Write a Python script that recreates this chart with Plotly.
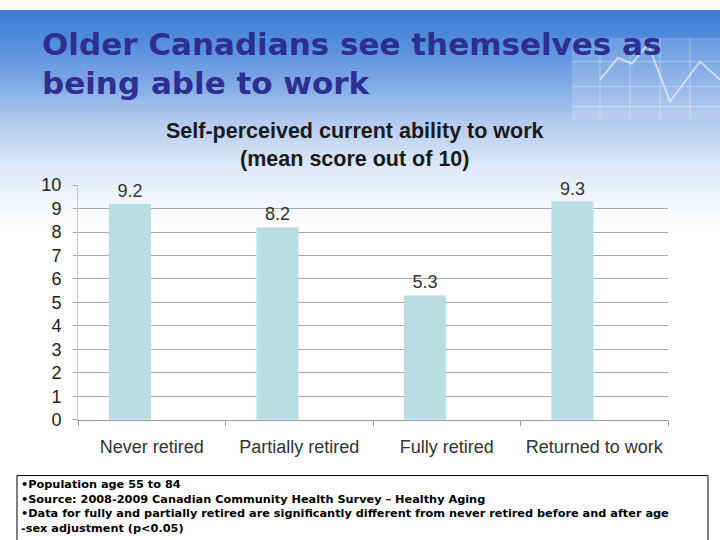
import plotly.graph_objects as go

categories = ["Never retired", "Partially retired", "Fully retired", "Returned to work"]
values = [9.2, 8.2, 5.3, 9.3]
value_labels = ["9.2", "8.2", "5.3", "9.3"]
y_ticks = [0, 1, 2, 3, 4, 5, 6, 7, 8, 9, 10]

title_lines = ["Older Canadians see themselves as", "being able to work"]
chart_title = "Self-perceived current ability to work<br>(mean score out of 10)"
notes = [
    "•Population age 55 to 84",
    "•Source: 2008-2009 Canadian Community Health Survey – Healthy Aging",
    "•Data for fully and partially retired are significantly different from never retired before and after age",
    "-sex adjustment (p<0.05)",
]

W, H = 720, 540
# the captured picture maps figure rows as: pic_y = 8 + 0.968 * fig_y
OFF, SC = 8.0, 0.968

def fy(p):  # desired picture y (from top) -> figure pixel
    return (p - OFF) / SC

def py(p):  # desired picture y -> paper coordinate
    return 1 - fy(p) / H

def px(p):
    return p / W

BAR_W = 0.285          # fraction of a category slot
BAR_SHIFT = -0.148     # bar centre sits left of the category centre (empty second series slot)

fig = go.Figure()
fig.add_trace(go.Bar(
    x=categories, y=values, text=value_labels, textposition="outside",
    width=BAR_W, offset=BAR_SHIFT - BAR_W / 2,
    textfont=dict(family="Liberation Sans, Arial", size=18, color="#333333"),
    marker=dict(color="#b8dee1", line=dict(width=0)),
    cliponaxis=False, hoverinfo="skip",
))

shapes = []
# background gradient (styling) - overlapping bands to avoid seams
stops = [(0, (56, 118, 210)), (40, (84, 141, 220)), (80, (128, 168, 229)),
         (120, (178, 203, 238)), (160, (218, 230, 246)), (200, (243, 247, 252)), (230, (255, 255, 255))]
step = 2
for y0 in range(0, 230, step):
    for i in range(len(stops) - 1):
        if stops[i][0] <= y0 < stops[i + 1][0]:
            a, ca = stops[i]
            b, cb = stops[i + 1]
            t = (y0 - a) / (b - a)
            c = tuple(int(round(ca[k] + (cb[k] - ca[k]) * t)) for k in range(3))
            break
    shapes.append(dict(type="rect", xref="paper", yref="paper", x0=0, x1=1,
                       y0=py(232), y1=min(1.0, py(y0)), fillcolor="rgb(%d,%d,%d)" % c,
                       line=dict(width=0), layer="below"))
shapes[0]["y1"] = 1.0

# decorative panel at top right
shapes.append(dict(type="rect", xref="paper", yref="paper", x0=px(572), x1=1, y0=py(118), y1=py(36),
                   fillcolor="rgba(255,255,255,0.16)", line=dict(width=0), layer="below"))
for xx in [600, 630, 660, 690]:
    shapes.append(dict(type="line", xref="paper", yref="paper", x0=px(xx), x1=px(xx), y0=py(118), y1=py(36),
                       line=dict(color="rgba(255,255,255,0.35)", width=1), layer="below"))
for yy in [60, 85, 105]:
    shapes.append(dict(type="line", xref="paper", yref="paper", x0=px(572), x1=1, y0=py(yy), y1=py(yy),
                       line=dict(color="rgba(255,255,255,0.35)", width=1), layer="below"))
zig = [(600, 78), (618, 56), (632, 62), (648, 42), (670, 100), (700, 60), (720, 78)]
path = "M " + " L ".join("%f,%f" % (px(a), py(b)) for a, b in zig)
shapes.append(dict(type="path", xref="paper", yref="paper", path=path,
                   line=dict(color="rgba(255,255,255,0.55)", width=2), layer="below"))

# footnote box (bottom edge runs past the page)
shapes.append(dict(type="rect", xref="paper", yref="paper", x0=px(17), x1=px(708), y0=-0.05, y1=py(476),
                   fillcolor="white", line=dict(color="black", width=1), layer="above"))

annotations = []
for i, line in enumerate(title_lines):
    annotations.append(dict(text="<b>%s</b>" % line, xref="paper", yref="paper", x=px(40), y=py(42.5 + 39 * i),
                            xanchor="left", yanchor="middle", showarrow=False,
                            font=dict(family="DejaVu Sans", size=31, color="#2b2f8f")))
annotations.append(dict(text="<b>%s</b>" % chart_title, xref="paper", yref="paper", x=px(355), y=py(143.5),
                        xanchor="center", yanchor="middle", showarrow=False, align="center",
                        font=dict(family="Liberation Sans, Arial", size=21.5, color="#1a1a1a")))
annotations.append(dict(text="<br>".join("<b>%s</b>" % n for n in notes), xref="paper", yref="paper",
                        x=px(19), y=py(476.5), xanchor="left", yanchor="top", align="left", showarrow=False,
                        font=dict(family="DejaVu Sans", size=11.3, color="black")))

fig.update_layout(
    width=W, height=H, margin=dict(l=0, r=0, t=0, b=0), autosize=False,
    paper_bgcolor="white", plot_bgcolor="rgba(0,0,0,0)",
    showlegend=False,
    shapes=shapes, annotations=annotations,
    xaxis=dict(domain=[px(78), px(668)], showline=True, linecolor="#9a9a9a", linewidth=1,
               ticks="outside", tickson="boundaries", ticklen=5, tickcolor="#9a9a9a",
               ticklabelstandoff=11,
               tickfont=dict(family="Liberation Sans, Arial", size=18, color="#333333"),
               showgrid=False, fixedrange=True),
    yaxis=dict(domain=[py(420), py(184)], range=[0, 10], tickvals=y_ticks,
               showgrid=True, gridcolor="#a8a8a8", gridwidth=1, zeroline=False,
               showline=True, linecolor="#c8c8c8", ticks="outside", ticklen=4, tickcolor="#a8a8a8",
               ticklabelstandoff=8,
               tickfont=dict(family="Liberation Sans, Arial", size=18, color="#222222"),
               fixedrange=True),
)

post = (
    "document.documentElement.style.margin='0';document.documentElement.style.padding='0';"
    "document.documentElement.style.overflow='hidden';"
    "document.body.style.margin='0';document.body.style.padding='0';document.body.style.overflow='hidden';"
    "var d=document.getElementById('{plot_id}');d.style.position='fixed';d.style.top='0px';d.style.left='0px';"
)
fig.write_html("out.html", config={"displayModeBar": False}, post_script=post)
